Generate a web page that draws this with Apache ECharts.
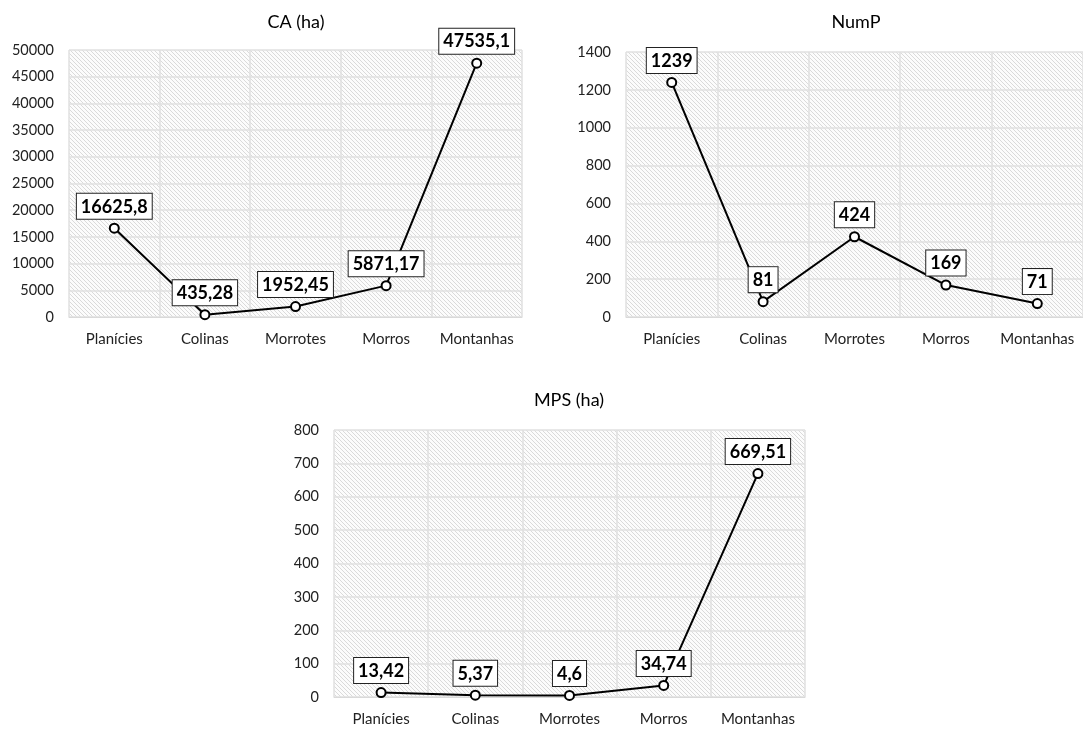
<!DOCTYPE html>
<html>
<head>
<meta charset="utf-8">
<script src="https://cdn.jsdelivr.net/npm/echarts@6/dist/echarts.min.js"></script>
<style>html,body{margin:0;padding:0;background:#fff;}#c{width:1083px;height:729px;}</style>
</head>
<body>
<div id="c"></div>
<script>
const categories = ['Planícies', 'Colinas', 'Morrotes', 'Morros', 'Montanhas'];
const caValues = [16625.8, 435.28, 1952.45, 5871.17, 47535.1];
const numpValues = [1239, 81, 424, 169, 71];
const mpsValues = [13.42, 5.37, 4.6, 34.74, 669.51];
const titles = ['CA (ha)', 'NumP', 'MPS (ha)'];
const yMax = [50000, 1400, 800];
const yStep = [5000, 200, 100];

function hatch() {
  const n = 4;
  const c = document.createElement('canvas');
  c.width = n; c.height = n;
  const g = c.getContext('2d');
  g.fillStyle = '#fcfcfc'; g.fillRect(0, 0, n, n);
  g.fillStyle = '#dadada';
  for (let i = 0; i < n; i++) g.fillRect(i, i, 1, 1);
  return c;
}
const pattern = { image: hatch(), repeat: 'repeat' };
const FONT = 'Lato';

const grids = [
  { left: 69, top: 50, width: 453, height: 267 },
  { left: 626, top: 52, width: 460, height: 265 },
  { left: 334, top: 430, width: 471, height: 267 }
];
const titlePos = [[296, 22], [856, 22], [569, 400]];
const allValues = [caValues, numpValues, mpsValues];

const fmt = v => String(v).replace('.', ',');

const option = {
  animation: false,
  backgroundColor: '#fff',
  grid: grids.map(g => Object.assign({ show: true, backgroundColor: pattern, borderWidth: 0, containLabel: false }, g)),
  graphic: titles.map((t, i) => ({
    type: 'text', x: titlePos[i][0], y: titlePos[i][1],
    style: { text: t, align: 'center', verticalAlign: 'middle', fontSize: 18, fontFamily: FONT, fill: '#000' }
  })),
  xAxis: grids.map((g, i) => ({
    type: 'category', gridIndex: i, data: categories, boundaryGap: true,
    axisLine: { show: true, lineStyle: { color: '#d9d9d9', width: 1 } },
    axisTick: { show: false },
    splitLine: { show: true, lineStyle: { color: '#e0e0e0', width: 1.5 } },
    axisLabel: { fontSize: 15, fontFamily: FONT, color: '#222', margin: 15, interval: 0 }
  })),
  yAxis: grids.map((g, i) => ({
    type: 'value', gridIndex: i, min: 0, max: yMax[i], interval: yStep[i],
    axisLine: { show: false }, axisTick: { show: false },
    splitLine: { show: true, lineStyle: { color: '#e0e0e0', width: 1.5 } },
    axisLabel: { fontSize: 14.5, fontFamily: FONT, color: '#222', margin: 15, formatter: v => String(v) }
  })),
  series: allValues.map((vals, i) => ({
    type: 'line', xAxisIndex: i, yAxisIndex: i, data: vals,
    symbol: 'circle', symbolSize: 9,
    itemStyle: { color: '#fff', borderColor: '#000', borderWidth: 2 },
    lineStyle: { color: '#000', width: 2 },
    label: {
      show: true, position: 'top', distance: 4,
      formatter: p => fmt(p.value),
      fontSize: 18, fontWeight: 'bold', fontFamily: FONT, color: '#000',
      backgroundColor: '#fff', borderColor: '#222', borderWidth: 1, padding: [4, 4, 3, 4]
    },
    z: 5
  }))
};

const chart = echarts.init(document.getElementById('c'), null, { renderer: 'canvas' });
chart.setOption(option);
</script>
</body>
</html>
